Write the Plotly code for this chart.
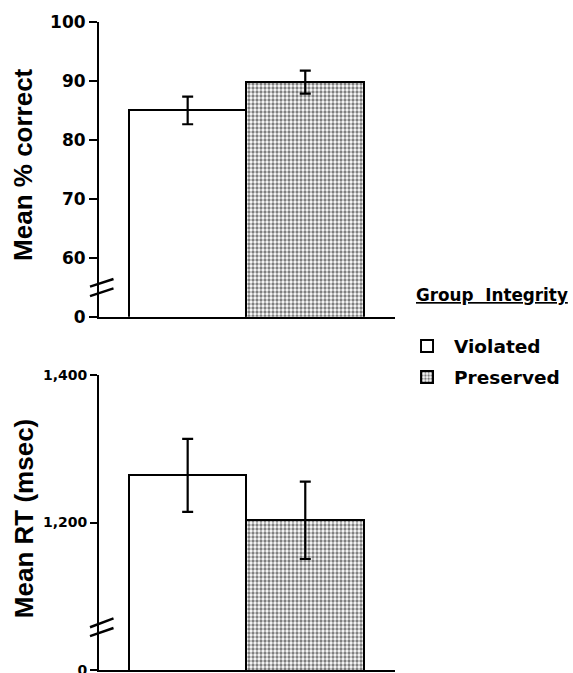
import plotly.graph_objects as go

# ---- data ----
groups = ["Violated", "Preserved"]
accuracy = [85.0, 89.8]
accuracy_err = [2.35, 1.95]
rt = [1264, 1203]
rt_err = [49.5, 52.5]

acc_tickvals = [50, 60, 70, 80, 90, 100]
acc_ticktext = ["0", "60", "70", "80", "90", "100"]
rt_tickvals = [1000, 1200, 1400]
rt_ticktext = ["0", "1,200", "1,400"]

BLACK = "#000000"
fills = ["white", "white"]
patterns = ["", "."]

fig = go.Figure()

for i, g in enumerate(groups):
    marker = dict(color=fills[i], line=dict(color=BLACK, width=2))
    if patterns[i]:
        marker["pattern"] = dict(shape=patterns[i], fgcolor=BLACK, bgcolor="white",
                                 size=4, solidity=0.52, fillmode="overlay")
    fig.add_trace(go.Bar(
        x=[g], y=[accuracy[i]], name=g, legendgroup=g, showlegend=True,
        marker=marker,
        error_y=dict(type="data", array=[accuracy_err[i]], color=BLACK,
                     thickness=2.2, width=5.5),
        xaxis="x", yaxis="y",
    ))
    fig.add_trace(go.Bar(
        x=[g], y=[rt[i]], name=g, legendgroup=g, showlegend=False,
        marker=marker,
        error_y=dict(type="data", array=[rt_err[i]], color=BLACK,
                     thickness=2.2, width=5.5),
        xaxis="x2", yaxis="y2",
    ))

xcommon = dict(type="category", categoryorder="array", categoryarray=groups,
               range=[-0.754, 1.763], showticklabels=False, ticks="",
               showline=True, linecolor=BLACK, linewidth=2, showgrid=False,
               zeroline=False, fixedrange=True, automargin=False)

fig.update_layout(
    width=573, height=673,
    margin=dict(l=99, r=178, t=22, b=3, autoexpand=False),
    paper_bgcolor="white", plot_bgcolor="white",
    barmode="group", bargap=0, bargroupgap=0,
    xaxis=dict(anchor="y", **xcommon),
    xaxis2=dict(anchor="y2", **xcommon),
    yaxis=dict(domain=[0.5452, 1.0], anchor="x", range=[50, 100],
               tickmode="array", tickvals=acc_tickvals, ticktext=acc_ticktext,
               ticks="outside", ticklen=8, tickwidth=2, tickcolor=BLACK,
               showline=True, linecolor=BLACK, linewidth=2, showgrid=False,
               zeroline=False, automargin=False, ticklabeloverflow="allow",
               tickfont=dict(family="DejaVu Sans", size=17, color=BLACK, weight="bold")),
    yaxis2=dict(domain=[0.0, 0.4552], anchor="x2", range=[1000, 1400],
                tickmode="array", tickvals=rt_tickvals, ticktext=rt_ticktext,
                ticks="outside", ticklen=7, tickwidth=2, tickcolor=BLACK,
                showline=True, linecolor=BLACK, linewidth=2, showgrid=False,
                zeroline=False, automargin=False, ticklabeloverflow="allow",
                tickfont=dict(family="DejaVu Sans", size=14, color=BLACK, weight="bold")),
    showlegend=True,
    legend=dict(x=1.017, y=0.5285, xanchor="left", yanchor="top",
                font=dict(family="DejaVu Sans", size=18.5, color=BLACK, weight="bold"),
                itemwidth=44, tracegroupgap=4, bgcolor="rgba(0,0,0,0)",
                traceorder="grouped"),
    annotations=[
        dict(text="<b>Mean % correct</b>", xref="paper", yref="paper",
             x=-0.2568, y=0.781, textangle=-90, showarrow=False,
             xanchor="center", yanchor="middle",
             font=dict(family="Liberation Sans", size=26, color=BLACK)),
        dict(text="<b>Mean RT (msec)</b>", xref="paper", yref="paper",
             x=-0.253, y=0.233, textangle=-90, showarrow=False,
             xanchor="center", yanchor="middle",
             font=dict(family="Liberation Sans", size=26, color=BLACK)),
        dict(text="<u><b>Group  Integrity</b></u>", xref="paper", yref="paper",
             x=1.329, y=0.578, showarrow=False, xanchor="center", yanchor="middle",
             font=dict(family="DejaVu Sans", size=16.8, color=BLACK)),
    ],
)

# axis-break marks
breaks = [
    ("y", 55.1, 56.4), ("y", 53.5, 54.8),
    ("y2", 1058, 1070), ("y2", 1046, 1057),
]
for yref, ya, yb in breaks:
    fig.add_shape(type="line", xref="paper", yref=yref,
                  x0=-0.0304, x1=0.049, y0=ya, y1=yb,
                  line=dict(color=BLACK, width=2.5), layer="above")

fig.write_html(
    "out.html",
    config={"displayModeBar": False},
    post_script="document.body.style.margin='0';document.body.style.overflow='hidden';",
)
